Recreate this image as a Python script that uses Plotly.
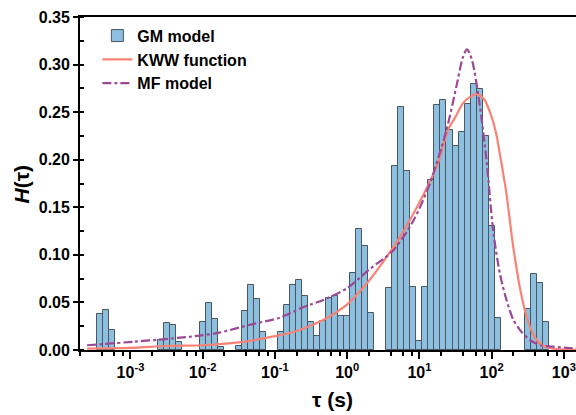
import math
import plotly.graph_objects as go

# Relaxation-time spectrum: bins are 1/12 decade wide, indexed by k (log10 tau = k/12)
bin_index = [-41, -40, -39,
             -31, -30, -29, -28,
             -24, -23, -22, -21,
             -18, -17, -16, -15, -14,
             -11, -10, -9, -8, -7, -6, -5, -4, -3, -2, -1, 0, 1, 2, 3, 4,
             7, 8, 9, 10, 11, 12, 13, 14, 15, 16, 17, 18, 19, 20, 21, 22, 23, 24, 25,
             30, 31, 32, 33]
gm_values = [0.038, 0.042, 0.021,
             0.010, 0.028, 0.026, 0.008,
             0.029, 0.049, 0.033, 0.003,
             0.004, 0.041, 0.068, 0.054, 0.019,
             0.019, 0.047, 0.068, 0.074, 0.057, 0.029, 0.015, 0.030, 0.055, 0.057,
             0.036, 0.036, 0.081, 0.127, 0.109, 0.039,
             0.065, 0.193, 0.255, 0.188, 0.066, 0.009, 0.066, 0.179, 0.257, 0.263,
             0.231, 0.214, 0.229, 0.259, 0.280, 0.274, 0.225, 0.130, 0.034,
             0.043, 0.080, 0.070, 0.029]
bins_per_decade = 12

# KWW function (log10 tau, H)
kww_logtau = [-3.6, -3.0, -2.5, -2.0, -1.5, -1.0, -0.7, -0.5, -0.33, 0.0, 0.25, 0.5,
              0.75, 1.0, 1.1, 1.25, 1.4, 1.5, 1.6, 1.7, 1.8, 1.9, 2.0, 2.07, 2.1, 2.2,
              2.3, 2.4, 2.5, 2.6, 2.7, 2.85, 3.0, 3.17]
kww_h = [0.0015, 0.0022, 0.0042, 0.0050, 0.0080, 0.0145, 0.020, 0.026, 0.0316, 0.048,
         0.068, 0.093, 0.121, 0.155, 0.170, 0.195, 0.232, 0.245, 0.259, 0.266, 0.269,
         0.263, 0.245, 0.225, 0.212, 0.167, 0.108, 0.062, 0.031, 0.013, 0.005, 0.0015,
         0.0005, 0.0002]

# MF model (log10 tau, H)
mf_logtau = [-3.6, -2.94, -2.6, -2.11, -1.79, -1.32, -0.93, -0.61, -0.33, 0.0, 0.31,
             0.63, 0.91, 1.145, 1.377, 1.515, 1.6, 1.658, 1.727, 1.838, 1.931, 2.022,
             2.115, 2.208, 2.299, 2.392, 2.53, 2.67, 2.85, 3.13, 3.17]
mf_h = [0.005, 0.0088, 0.011, 0.0145, 0.018, 0.027, 0.034, 0.045, 0.0526, 0.065, 0.085,
        0.104, 0.135, 0.175, 0.232, 0.278, 0.307, 0.316, 0.305, 0.256, 0.198, 0.125,
        0.080, 0.052, 0.032, 0.021, 0.0105, 0.005, 0.0035, 0.0018, 0.0017]

# Axis ticks
decades = [-3, -2, -1, 0, 1, 2, 3]
decade_labels = ["10<sup>-3</sup>", "10<sup>-2</sup>", "10<sup>-1</sup>", "10<sup>0</sup>",
                 "10<sup>1</sup>", "10<sup>2</sup>", "10<sup>3</sup>"]
minor_mantissas = [2, 4, 6, 8]

bin_centers = [k / bins_per_decade for k in bin_index]
minor_vals = [e + math.log10(m) for e in range(-4, 4) for m in minor_mantissas]

FONT = "Liberation Sans, Arial, sans-serif"

fig = go.Figure()
fig.add_trace(go.Bar(
    x=bin_centers, y=gm_values, width=1 / bins_per_decade,
    name="GM model",
    marker=dict(color="rgb(140,192,222)", line=dict(color="rgb(75,86,98)", width=1)),
))
fig.add_trace(go.Scatter(
    x=kww_logtau, y=kww_h, mode="lines", name="KWW function",
    line=dict(color="rgb(250,130,116)", width=2.2, shape="spline", smoothing=0.8),
))
fig.add_trace(go.Scatter(
    x=mf_logtau, y=mf_h, mode="lines", name="MF model",
    line=dict(color="rgb(156,72,150)", width=2.2, dash="dashdot", shape="spline", smoothing=0.8),
))

fig.update_layout(
    width=576, height=415,
    margin=dict(l=80, r=0, t=17, b=65),
    plot_bgcolor="white", paper_bgcolor="white",
    bargap=0,
    showlegend=True,
    legend=dict(x=0.035, y=0.995, xanchor="left", yanchor="top",
                bgcolor="rgba(0,0,0,0)", borderwidth=0,
                font=dict(family=FONT, size=16, color="black", weight="bold"),
                itemwidth=30, tracegroupgap=0),
    xaxis=dict(
        range=[math.log10(2e-4), 3.168],
        showline=True, linecolor="black", linewidth=1.8, mirror=True,
        showgrid=False, zeroline=False,
        tickmode="array", tickvals=decades, ticktext=decade_labels,
        ticks="outside", ticklen=7, tickwidth=1.8, tickcolor="black",
        minor=dict(tickvals=minor_vals, ticks="outside", ticklen=4, tickwidth=1.5,
                   tickcolor="black", showgrid=False),
        tickfont=dict(family=FONT, size=16, color="black", weight="bold"),
        ticklabeloverflow="allow",
    ),
    yaxis=dict(
        range=[0, 0.35],
        showline=True, linecolor="black", linewidth=1.8, mirror=False,
        showgrid=False, zeroline=False,
        tickmode="linear", tick0=0, dtick=0.05, tickformat=".2f",
        ticks="outside", ticklen=5, tickwidth=1.8, tickcolor="black",
        minor=dict(tick0=0, dtick=0.025, ticks="inside", ticklen=4, tickwidth=1.5,
                   tickcolor="black", showgrid=False),
        tickfont=dict(family=FONT, size=16, color="black", weight="bold"),
    ),
    annotations=[
        dict(text="<b><i>H</i>(τ)</b>", xref="paper", yref="paper", x=-0.117, y=0.5,
             xanchor="center", yanchor="middle", textangle=-90, showarrow=False,
             font=dict(family=FONT, size=21, color="black")),
        dict(text="<b>τ (s)</b>", xref="paper", yref="paper", x=0.51, y=-0.15,
             xanchor="center", yanchor="middle", showarrow=False,
             font=dict(family=FONT, size=21, color="black")),
    ],
)

fig.write_html("out.html")
